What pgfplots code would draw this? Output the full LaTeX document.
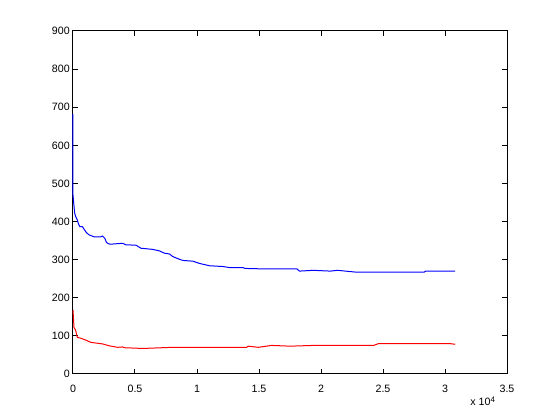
\documentclass[border=0pt]{standalone}
\usepackage{fontspec}
\setmainfont{Liberation Sans}
\usepackage{pgfplots}
\pgfplotsset{compat=1.18}
\begin{document}
\begin{tikzpicture}
\useasboundingbox (-54.75pt,-34.5pt) rectangle (365.25pt,280.5pt);
\begin{axis}[
  at={(0pt,0pt)}, anchor=south west,
  scale only axis, width=325.5pt, height=257.25pt,
  xmin=0, xmax=35000, ymin=0, ymax=900,
  xtick={0,5000,10000,15000,20000,25000,30000,35000},
  xticklabels={0,0.5,1,1.5,2,2.5,3,3.5},
  ytick={0,100,...,900},
  scaled x ticks=false,
  tick align=inside, xtick pos=both, ytick pos=both,
  major tick length=3.75pt,
  axis line style={line width=0.75pt},
  tick style={line width=0.75pt, black},
  /pgf/number format/assume math mode=true,
  ticklabel style={font=\fontsize{8}{9.6}\selectfont},
  xticklabel style={inner sep=0pt, anchor=north, yshift=-8pt},
  yticklabel style={inner sep=0pt, anchor=east, xshift=-2.25pt},
  clip=false,
]
\addplot[blue, line width=0.75pt] coordinates {
(0,682)(0,469)(130,423)(215,413)(350,404)(430,395)(540,387)(750,387)(890,380)(1080,371)(1300,365)(1700,360)(2240,360)(2380,362)(2570,356)(2700,345)(2920,341)(3190,341)(4000,343)(4270,339)(5080,338)(5480,330)(6430,327)(6970,323)(7370,317)(7780,315)(8050,308)(8590,301)(8860,298)(9670,296)(10210,290)(11020,284)(12100,282)(12640,279)(13720,279)(13860,277)(15070,276)(18050,276)(18260,270)(19390,272)(20750,270)(21340,272)(21960,270)(22910,267)(28310,267)(28440,270)(30820,270)
};
\addplot[red, line width=0.75pt] coordinates {
(0,168)(80,122)(215,115)(300,102)(350,96)(620,94)(1030,89)(1430,83)(2380,79)(2920,74)(3590,70)(4000,71)(4130,69)(5620,67)(8050,70)(14000,70)(14130,73)(14940,70)(16020,75)(17500,73)(19390,75)(24250,75)(24660,80)(30330,80)(30820,78)
};
\node[anchor=base west, inner sep=0pt, font=\fontsize{8}{9.6}\selectfont] at (rel axis cs:0.915,-0.093) {x 10\textsuperscript{4}};
\end{axis}
\end{tikzpicture}
\end{document}
